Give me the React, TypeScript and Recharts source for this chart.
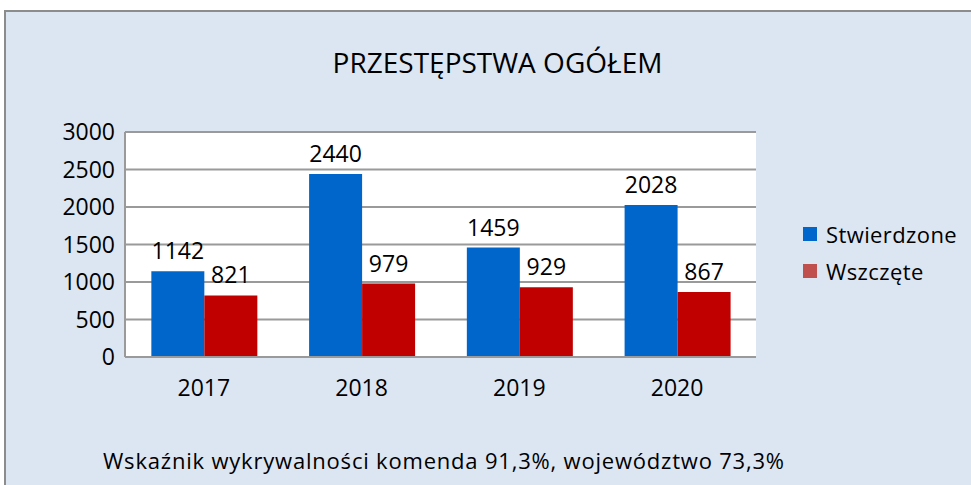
import React from "react";
import { BarChart, Bar, XAxis, YAxis, CartesianGrid, LabelList } from "recharts";

const years = ["2017", "2018", "2019", "2020"];
const stwierdzone = [1142, 2440, 1459, 2028];
const wszczete = [821, 979, 929, 867];
const yTicks = [0, 500, 1000, 1500, 2000, 2500, 3000];

const title = "PRZESTĘPSTWA OGÓŁEM";
const footer = "Wskaźnik wykrywalności komenda 91,3%, województwo 73,3%";
const seriesNames = ["Stwierdzone", "Wszczęte"];

const data = years.map((y, i) => ({ year: y, s: stwierdzone[i], w: wszczete[i] }));

const FONT = "'Open Sans', sans-serif";

export default function App() {
  return (
    <div style={{ position: "absolute", left: 0, top: 0, width: 971, height: 485, background: "#fff", overflow: "hidden", fontFamily: FONT }}>
      <div style={{ position: "absolute", left: 4, top: 10, width: 1000, height: 520, background: "#dce6f2", borderTop: "2px solid #8c8c8c", borderLeft: "2px solid #8c8c8c", boxSizing: "border-box" }} />
      <div style={{ position: "absolute", left: 0, top: 0 }}>
        <BarChart
          width={971}
          height={485}
          data={data}
          margin={{ top: 132, right: 215, bottom: 88, left: 0 }}
          barCategoryGap="16.7%"
          barGap={0}
        >
          <CartesianGrid vertical={false} fill="#ffffff" stroke="#9a9a9a" strokeWidth={2} />
          <XAxis
            dataKey="year"
            height={40}
            tickLine={false}
            axisLine={{ stroke: "#9a9a9a", strokeWidth: 2 }}
            tick={{ fill: "#000", fontSize: 23, fontFamily: FONT }}
            tickMargin={17}
          />
          <YAxis
            width={125}
            domain={[0, 3000]}
            ticks={yTicks}
            interval={0}
            tickLine={false}
            axisLine={{ stroke: "#9a9a9a", strokeWidth: 2 }}
            tick={{ fill: "#000", fontSize: 23, fontFamily: FONT }}
            tickMargin={4}
          />
          <Bar dataKey="s" fill="#0066cc" isAnimationActive={false}>
            <LabelList dataKey="s" position="top" offset={12} fill="#000" fontSize={23} fontFamily={FONT} />
          </Bar>
          <Bar dataKey="w" fill="#c00000" isAnimationActive={false}>
            <LabelList dataKey="w" position="top" offset={12} fill="#000" fontSize={23} fontFamily={FONT} />
          </Bar>
        </BarChart>
      </div>
      <div style={{ position: "absolute", left: 0, width: 995, top: 42, textAlign: "center", fontSize: 28, color: "#000", lineHeight: "40px", whiteSpace: "nowrap" }}>
        {title}
      </div>
      <div style={{ position: "absolute", left: 103, top: 443, fontSize: 22, letterSpacing: 0.8, color: "#000", lineHeight: "34px", whiteSpace: "nowrap" }}>
        {footer}
      </div>
      <div style={{ position: "absolute", left: 803, top: 215, fontSize: 22, letterSpacing: 0.4, color: "#000" }}>
        {seriesNames.map((n, i) => (
          <div key={n} style={{ display: "flex", alignItems: "center", height: 37, whiteSpace: "nowrap" }}>
            <span style={{ display: "inline-block", width: 14, height: 14, background: i === 0 ? "#0066cc" : "#c0504d", marginRight: 9 }} />
            <span>{n}</span>
          </div>
        ))}
      </div>
    </div>
  );
}
